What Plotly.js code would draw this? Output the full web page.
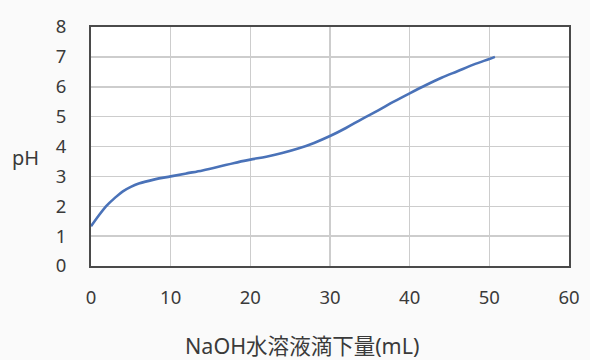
<!DOCTYPE html>
<html>
<head>
<meta charset="utf-8">
<script src="https://cdn.plot.ly/plotly-3.0.1.min.js"></script>
<style>html,body{margin:0;padding:0;background:#fafafa;}</style>
</head>
<body>
<div id="chart" style="width:590px;height:360px;"></div>
<script>
const naohVolume = [0, 1, 2, 3, 4, 5, 6, 8, 10, 12, 14, 16, 18, 20, 22, 24, 26, 28, 30, 32, 34, 36, 38, 40, 42, 44, 46, 48, 50, 50.7];
const phValues = [1.33, 1.7, 2.03, 2.28, 2.5, 2.65, 2.76, 2.9, 3.0, 3.1, 3.2, 3.32, 3.45, 3.56, 3.66, 3.78, 3.93, 4.12, 4.35, 4.62, 4.92, 5.2, 5.5, 5.78, 6.05, 6.3, 6.52, 6.74, 6.93, 7.0];
const xTicks = [0, 10, 20, 30, 40, 50, 60];
const yTicks = [0, 1, 2, 3, 4, 5, 6, 7, 8];
const xTitle = 'NaOH水溶液滴下量(mL)';
const yTitle = 'pH';

const fontFam = '"Noto Sans", "Noto Sans CJK JP", sans-serif';
const txt = '#3a3a3a';

Plotly.newPlot('chart', [{
  x: naohVolume,
  y: phValues,
  type: 'scatter',
  mode: 'lines',
  line: {color: '#4a72b8', width: 2.6, shape: 'spline', smoothing: 1},
  hoverinfo: 'skip'
}], {
  width: 590, height: 360,
  paper_bgcolor: '#fafafa',
  plot_bgcolor: '#ffffff',
  margin: {l: 91, r: 21, t: 27, b: 94},
  showlegend: false,
  font: {family: fontFam, color: txt},
  xaxis: {
    range: [0, 60],
    tickvals: xTicks,
    ticktext: xTicks.map(String),
    showgrid: true, gridcolor: '#cdcdcd', gridwidth: 1.5,
    showline: true, linecolor: '#4a4a4a', linewidth: 2, mirror: true,
    zeroline: false,
    ticks: 'outside', ticklen: 14, tickcolor: 'rgba(0,0,0,0)',
    tickfont: {size: 18.5, family: fontFam, color: txt}
  },
  yaxis: {
    range: [0, 8],
    tickvals: yTicks,
    ticktext: yTicks.map(String),
    showgrid: true, gridcolor: '#cdcdcd', gridwidth: 1.5,
    showline: true, linecolor: '#4a4a4a', linewidth: 2, mirror: true,
    zeroline: false,
    ticks: 'outside', ticklen: 19, tickcolor: 'rgba(0,0,0,0)',
    tickfont: {size: 18.5, family: fontFam, color: txt}
  },
  annotations: [{
    text: yTitle, xref: 'paper', yref: 'paper', x: -0.138, y: 0.452,
    xanchor: 'center', yanchor: 'middle', showarrow: false,
    font: {size: 20, family: fontFam, color: txt}
  }, {
    text: xTitle, xref: 'paper', yref: 'paper', x: 0.4404, y: -0.331,
    xanchor: 'center', yanchor: 'middle', showarrow: false,
    font: {size: 21.5, family: fontFam, color: txt}
  }]
}, {displayModeBar: false, staticPlot: true});
</script>
</body>
</html>
